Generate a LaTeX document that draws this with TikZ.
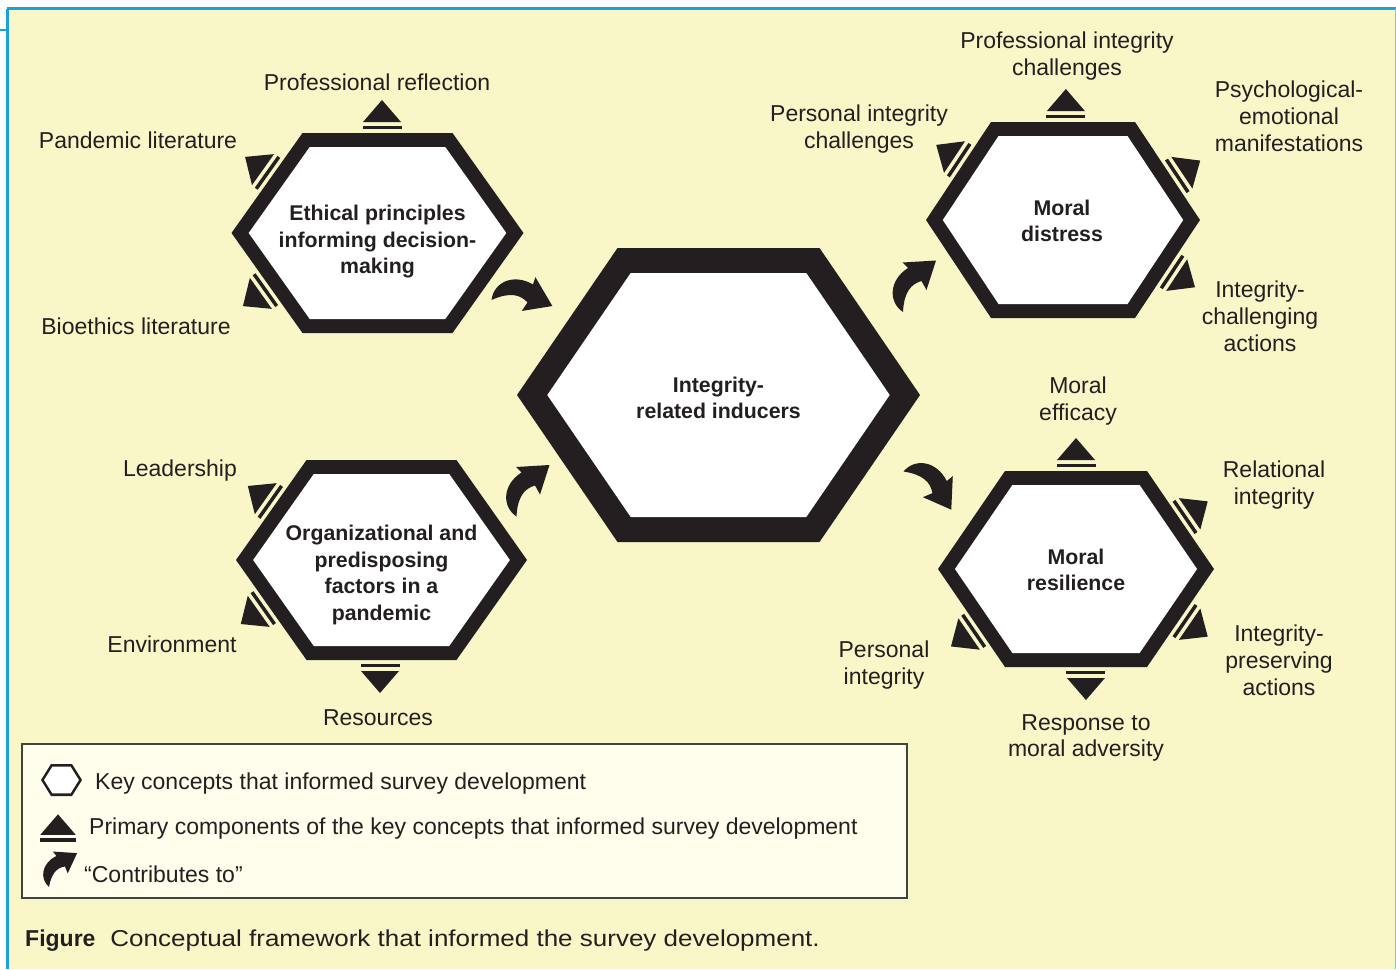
\documentclass[tikz,border=0pt]{standalone}
\usepackage{fontspec}
\setmainfont{Liberation Sans}
\usetikzlibrary{calc}

\definecolor{ink}{HTML}{231F20}
\definecolor{paper}{HTML}{F9F7C8}
\definecolor{legendfill}{HTML}{FFFDEC}
\definecolor{rule}{HTML}{1AA3D8}

\tikzset{
  hextext/.style={font=\fontsize{21.3}{26.5}\selectfont\bfseries, text=ink, align=center, inner sep=0pt},
  comptext/.style={font=\fontsize{23}{26.8}\selectfont, text=ink, align=center, inner sep=0pt},
  legtext/.style={font=\fontsize{23}{26.8}\selectfont, text=ink, anchor=west, inner sep=0pt},
  pics/hexa/.style n args={4}{code={
    \pgfmathsetmacro\hexP{#2-#4*veclen(#2-#1,#3)/#3}
    \pgfmathsetmacro\hexH{#3-#4}
    \pgfmathsetmacro\hexC{\hexP-(#2-#1)*\hexH/#3}
    \coordinate (-l) at (-#2,0);
    \coordinate (-tl) at (-#1,-#3);
    \coordinate (-tr) at (#1,-#3);
    \coordinate (-r) at (#2,0);
    \coordinate (-br) at (#1,#3);
    \coordinate (-bl) at (-#1,#3);
    \fill[ink] (-l) -- (-tl) -- (-tr) -- (-r) -- (-br) -- (-bl) -- cycle;
    \fill[white] (-\hexP,0) -- (-\hexC,-\hexH) -- (\hexC,-\hexH) -- (\hexP,0)
      -- (\hexC,\hexH) -- (-\hexC,\hexH) -- cycle;
  }},
  pics/comp/.style={code={
    \fill[ink] (-19.5,-7.2) rectangle (19.5,-3.7);
    \fill[ink] (-19,-11) -- (19,-11) -- (0,-33) -- cycle;
  }},
  pics/contrib/.style={code={
    \fill[ink] (0,0) .. controls (-15,-10) and (-14,-32) .. (5,-44) -- (-0.5,-49.5)
      -- (33,-51.5) -- (23.5,-22) -- (18.5,-31) .. controls (8,-28) and (1,-20) .. (0,0) -- cycle;
  }}
}

\begin{document}
\begin{tikzpicture}[x=1pt, y=-1pt]
  \useasboundingbox (0,0) rectangle (1396,969);
  \fill[white] (0,0) rectangle (1396,969);
  \fill[paper] (8,9) rectangle (1395,969);
  \draw[rule, line width=2.7] (6.5,8.7) -- (1396,8.7);
  \draw[rule, line width=2.7] (7.5,8.7) -- (7.5,969);
  \draw[rule, line width=2] (0,29.5) -- (7.5,29.5);
  \draw[rule!60, line width=1.2] (1395.2,8.7) -- (1395.2,969);

  % key concepts
  \pic (ethhex) at (377.5,233) {hexa={75}{146}{100}{14}};
  \pic (facthex) at (381.5,560) {hexa={75}{145.5}{100}{14}};
  \pic (indhex) at (718.5,395) {hexa={101}{201.5}{147}{25}};
  \pic (disthex) at (1063,220) {hexa={72}{137}{98}{14}};
  \pic (reshex) at (1076,569) {hexa={71}{138}{98}{14}};

  \node[hextext] (ethics) at (377.5,242) {Ethical principles\\informing decision-\\making};
  \node[hextext] (factors) at (381.5,575) {Organizational and\\predisposing\\factors in a\\pandemic};
  \node[hextext] (inducers) at (718.5,398) {Integrity-\\related inducers};
  \node[hextext] (distress) at (1062,221) {Moral\\distress};
  \node[hextext] (resilience) at (1076,570) {Moral\\resilience};

  % primary components
  \foreach \from/\to/\t/\r in {ethhex-tl/ethhex-tr/.53/0, ethhex-l/ethhex-tl/.57/54.6,
      ethhex-l/ethhex-bl/.54/125.4, facthex-l/facthex-tl/.55/54.8,
      facthex-l/facthex-bl/.45/125.2, facthex-bl/facthex-br/.49/180,
      disthex-tl/disthex-tr/.52/0, disthex-l/disthex-tl/.58/56.4,
      disthex-r/disthex-tr/.42/-56.4, disthex-r/disthex-br/.5/-123.6,
      reshex-tl/reshex-tr/.5/0, reshex-tr/reshex-r/.5/-55.6,
      reshex-r/reshex-br/.5/-124.4, reshex-bl/reshex-br/.57/180,
      reshex-l/reshex-bl/.6/124.4}
    \pic[rotate=\r] at ($(\from)!\t!(\to)$) {comp};

  \node[comptext] (reflection) at (377,82) {Professional reflection};
  \node[comptext] (pandemic) at (138,140) {Pandemic literature};
  \node[comptext] (bioethics) at (136,326) {Bioethics literature};
  \node[comptext] (leadership) at (180,471) {Leadership};
  \node[comptext] (environment) at (172,644) {Environment};
  \node[comptext] (resources) at (378,718) {Resources};
  \node[comptext] (profchall) at (1067,56) {Professional integrity\\challenges};
  \node[comptext] (perschall) at (859,129) {Personal integrity\\challenges};
  \node[comptext] (psych) at (1289,116) {Psychological-\\emotional\\manifestations};
  \node[comptext] (chalact) at (1260,316) {Integrity-\\challenging\\actions};
  \node[comptext] (efficacy) at (1078,401) {Moral\\efficacy};
  \node[comptext] (relational) at (1274,485) {Relational\\integrity};
  \node[comptext] (presact) at (1279,660) {Integrity-\\preserving\\actions};
  \node[comptext] (persint) at (884,665) {Personal\\integrity};
  \node[comptext] (response) at (1086,738) {Response to\\moral adversity};

  % contributes to
  \pic[rotate=-63] at (491.5,300) {contrib};
  \pic at (516.5,516.5) {contrib};
  \pic at (903,312) {contrib};
  \pic[rotate=-96] at (903.5,471.5) {contrib};

  % legend
  \draw[fill=legendfill, draw=ink!85, line width=1.5] (22,744) rectangle (907,898);
  \pic (keyicon) at (61.5,780) {hexa={10.5}{20.5}{16}{2.6}};
  \pic[scale=0.93] at (58,845) {comp};
  \pic[rotate=-7, scale=0.72] at (49,887) {contrib};
  \node[legtext] (keytext) at (95,784) {Key concepts that informed survey development};
  \node[legtext] (comptext) at (89,829) {Primary components of the key concepts that informed survey development};
  \node[legtext] (contribtext) at (84,874) {“Contributes to”};

  \node[legtext] (caption) at (25,941) {\textbf{Figure}\hskip 15pt {\addfontfeatures{FakeStretch=1.13}Conceptual framework that informed the survey development.}};
\end{tikzpicture}
\end{document}
